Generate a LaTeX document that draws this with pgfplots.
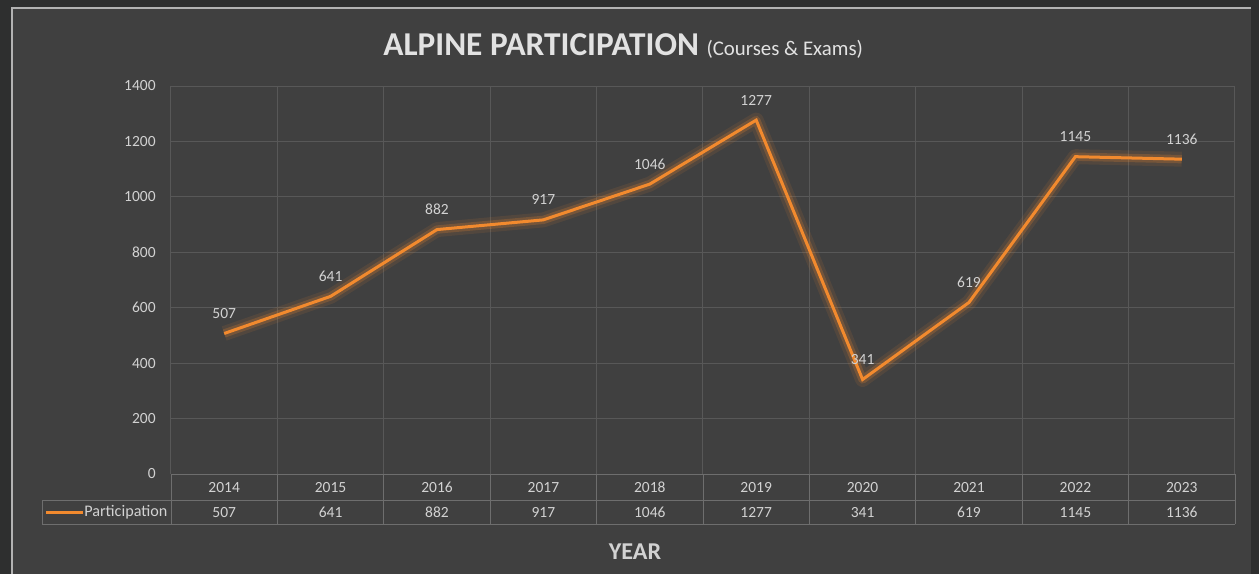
\documentclass[border=0pt]{standalone}
\usepackage{pgfplots}
\pgfplotsset{compat=1.18}
\usepackage{fontspec}
\setmainfont{Carlito}
\definecolor{outerbg}{HTML}{2E2F2F}
\definecolor{panel}{HTML}{404040}
\definecolor{gridc}{HTML}{585858}
\definecolor{tabc}{HTML}{6E6E6E}
\definecolor{txt}{HTML}{D2D2D2}
\definecolor{ttl}{HTML}{E2E2E2}
\definecolor{orng}{HTML}{F28A2E}
\newcommand{\lbl}{\fontsize{9.3}{15}\selectfont}
\begin{document}
\begin{tikzpicture}[x=0.6pt,y=0.6pt]
\fill[outerbg] (0,0) rectangle (1259,574);
\fill[panel] (12,0) rectangle (1251,566);
\draw[color=white!60!panel, line width=0.8pt] (12,0) -- (12,566) -- (1251,566);
\begin{axis}[
  at={(102.6pt,60pt)}, anchor=south west,
  width=638.4pt, height=232.8pt, scale only axis,
  xmin=-0.5, xmax=9.5, ymin=0, ymax=1400,
  ytick={0,200,...,1400},
  xtick={0,...,9},
  minor xtick={-0.5,0.5,...,9.5},
  xticklabels={{2014\\507},{2015\\641},{2016\\882},{2017\\917},{2018\\1046},{2019\\1277},{2020\\341},{2021\\619},{2022\\1145},{2023\\1136}},
  ymajorgrids, xminorgrids,
  grid style={gridc, line width=0.6pt},
  minor grid style={gridc, line width=0.6pt},
  major tick length=0pt, minor tick length=0pt,
  axis line style={draw=none},
  /pgf/number format/1000 sep={},
  /pgf/number format/assume math mode=true,
  yticklabel style={font=\lbl, text=txt, anchor=east, inner sep=0pt, xshift=-9pt},
  xticklabel style={font=\lbl, text=txt, align=center, anchor=base, inner sep=0pt, yshift=-25.9pt},
  clip=false,
]
\addplot[orng, opacity=0.10, line width=9pt, line join=round] coordinates {(0,507) (1,641) (2,882) (3,917) (4,1046) (5,1277) (6,341) (7,619) (8,1145) (9,1136)};
\addplot[orng, opacity=0.22, line width=5pt, line join=round] coordinates {(0,507) (1,641) (2,882) (3,917) (4,1046) (5,1277) (6,341) (7,619) (8,1145) (9,1136)};
\addplot[orng, line width=1.8pt, line join=miter,
  nodes near coords,
  every node near coord/.style={font=\lbl, text=txt, anchor=base, inner sep=0pt, yshift=9pt}]
  coordinates {(0,507) (1,641) (2,882) (3,917) (4,1046) (5,1277) (6,341) (7,619) (8,1145) (9,1136)};
\end{axis}
% data table grid
\draw[tabc, line width=0.6pt] (171,100) -- (1235,100);
\draw[tabc, line width=0.6pt] (42,74) -- (1235,74);
\draw[tabc, line width=0.6pt] (42,50) -- (1235,50);
\draw[tabc, line width=0.6pt] (42,50) -- (42,74);
\foreach \k in {0,...,10} {\draw[tabc, line width=0.6pt] ({171+\k*106.4},100) -- ({171+\k*106.4},50);}
\draw[orng, line width=1.8pt] (46,62) -- (83,62);
\node[anchor=west, inner sep=0pt, text=txt, font=\fontsize{9.7}{12}\selectfont] at (84,62) {Participation};
% titles
\node[anchor=base west, inner sep=0pt, text=ttl] at (383,519) {\fontsize{20}{20}\selectfont\bfseries ALPINE PARTICIPATION \fontsize{12.5}{12.5}\selectfont\mdseries(Courses \& Exams)};
\node[anchor=base, inner sep=0pt, text=txt] at (635,15) {\fontsize{14.5}{14.5}\selectfont\bfseries YEAR};
\end{tikzpicture}
\end{document}
